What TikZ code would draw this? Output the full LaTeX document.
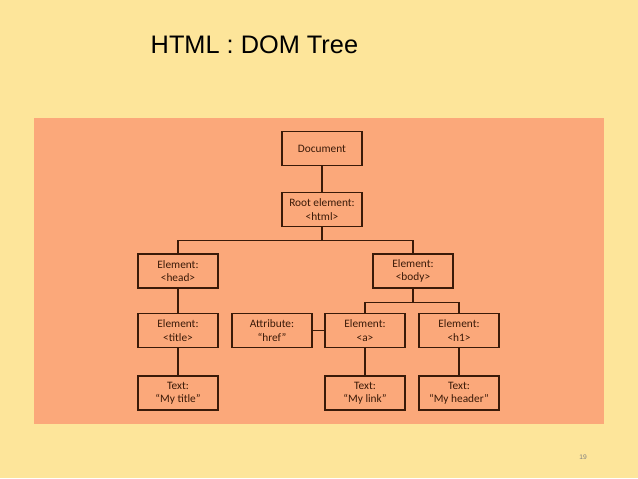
\documentclass[tikz,border=0pt]{standalone}
\usepackage{fontspec}
\setmainfont{Liberation Sans}
\newfontfamily\boxfont{Carlito}
\definecolor{bgy}{HTML}{FDE59A}
\definecolor{org}{HTML}{FBA87A}
\definecolor{brn}{HTML}{3A1A08}
\begin{document}
\begin{tikzpicture}[x=0.75pt,y=-0.75pt,
  bx/.style={draw=brn,line width=0.9pt,fill=org,text=brn,minimum width=60pt,minimum height=25.5pt,inner sep=0pt,align=center,font=\boxfont\fontsize{8.5}{10}\selectfont},
  ln/.style={draw=brn,line width=0.9pt}]
\fill[bgy] (0,0) rectangle (638,478);
\useasboundingbox (0,0) rectangle (638,478);
\fill[org] (34,118) rectangle (604,424);
\node[anchor=west,font=\fontsize{19}{22}\selectfont,text=black] (t) at (146,45) {HTML : DOM Tree};
\node[font=\fontsize{5}{6}\selectfont,text=gray] (pg) at (583,457) {19};
\node[bx] (doc) at (322,148.5) {Document};
\node[bx] (root) at (322,209.5) {Root element:\\<html>};
\node[bx] (head) at (178,271) {Element:\\<head>};
\node[bx] (body) at (413,271) {Element:\\<body>};
\node[bx] (title) at (178,330.5) {Element:\\<title>};
\node[bx] (attr) at (272,330.5) {Attribute:\\“href”};
\node[bx] (a) at (365,330.5) {Element:\\<a>};
\node[bx] (h1) at (459,330.5) {Element:\\<h1>};
\node[bx] (tt) at (178,393) {Text:\\“My title”};
\node[bx] (tl) at (365,393) {Text:\\“My link”};
\node[bx] (th) at (459,393) {Text:\\“My header”};
\draw[ln] (doc) -- (root);
\draw[ln] (root.south) -- ++(0,13) -| (head.north);
\draw[ln] (root.south) -- ++(0,13) -| (body.north);
\draw[ln] (body.south) -- ++(0,14) -| (a.north);
\draw[ln] (body.south) -- ++(0,14) -| (h1.north);
\draw[ln] (head) -- (title);
\draw[ln] (title) -- (tt);
\draw[ln] (attr) -- (a);
\draw[ln] (a) -- (tl);
\draw[ln] (h1) -- (th);
\end{tikzpicture}
\end{document}
